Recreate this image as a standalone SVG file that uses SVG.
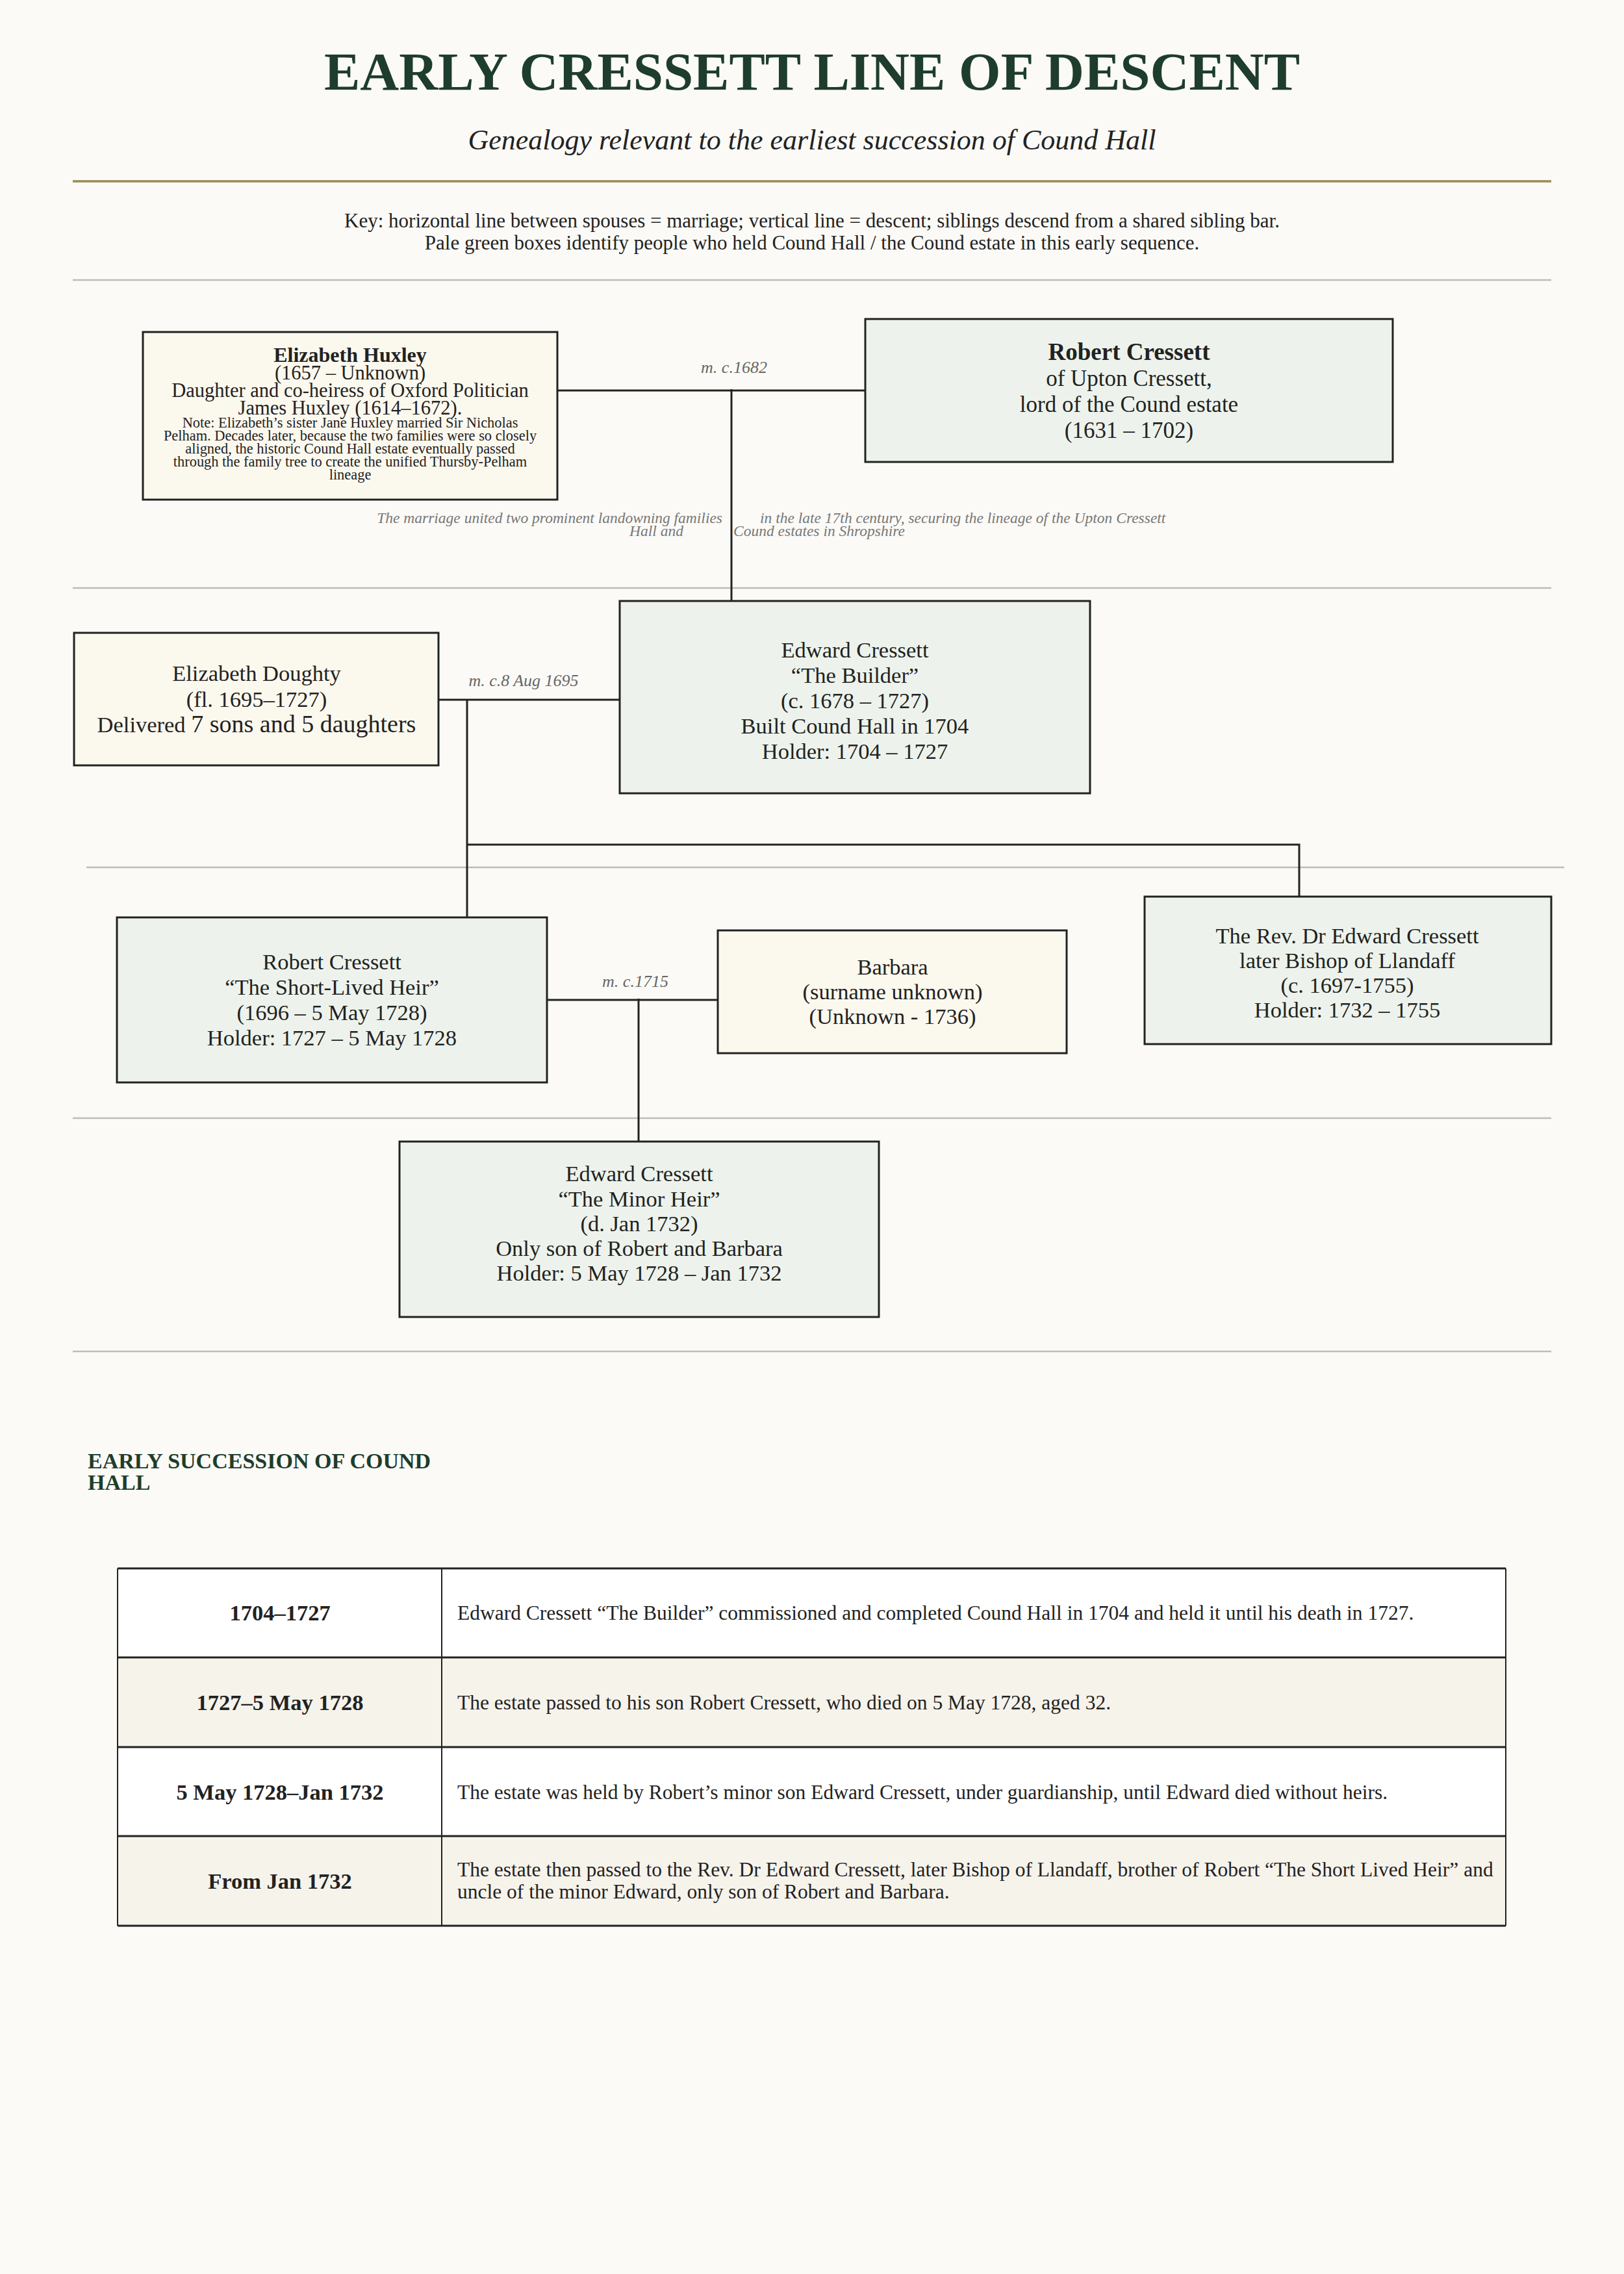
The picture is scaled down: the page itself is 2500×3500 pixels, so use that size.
<svg xmlns="http://www.w3.org/2000/svg" width="2500" height="3500" viewBox="0 0 2500 3500">
<style>
text{font-family:"Liberation Serif","Times New Roman",serif;fill:#222;}
.title{font-size:83px;font-weight:bold;fill:#1e3d2c;text-anchor:middle;}
.sub{font-size:44px;font-style:italic;fill:#222;text-anchor:middle;}
.key{font-size:31px;text-anchor:middle;fill:#222;}
.node{stroke:#222;stroke-width:3;}
.green{fill:#edf3ec;}
.cream{fill:#fbf8ee;}
.nt{font-size:34.5px;text-anchor:middle;}
.lbl{font-size:26px;font-style:italic;fill:#666;text-anchor:middle;}
.cap{font-size:23.5px;font-style:italic;fill:#777;}
.conn{stroke:#222;stroke-width:3;fill:none;}
.rule{stroke:#bdbdbd;stroke-width:2.5;}
.h2{font-size:34px;font-weight:bold;fill:#1e3d2c;}
.c1{font-size:34.5px;font-weight:bold;text-anchor:middle;}
.c2{font-size:31.5px;}
</style>
<rect x="0" y="0" width="2500" height="3500" fill="#fbfaf6"/>

<g id="header">
<text class="title" x="1250" y="138">EARLY CRESSETT LINE OF DESCENT</text>
<text class="sub" x="1250" y="230">Genealogy relevant to the earliest succession of Cound Hall</text>
<line x1="112" y1="279" x2="2388" y2="279" stroke="#9a8a55" stroke-width="3.5"/>
<text class="key" x="1250" y="350">Key: horizontal line between spouses = marriage; vertical line = descent; siblings descend from a shared sibling bar.</text>
<text class="key" x="1250" y="384">Pale green boxes identify people who held Cound Hall / the Cound estate in this early sequence.</text>
</g>

<g id="dividers">
<line class="rule" x1="112" y1="431" x2="2388" y2="431"/>
<line class="rule" x1="112" y1="905" x2="2388" y2="905"/>
<line class="rule" x1="133" y1="1335" x2="2408" y2="1335"/>
<line class="rule" x1="112" y1="1721" x2="2388" y2="1721"/>
<line class="rule" x1="112" y1="2080" x2="2388" y2="2080"/>
</g>

<g id="connectors">
<line class="conn" x1="858" y1="601" x2="1332" y2="601"/>
<line class="conn" x1="1126" y1="599" x2="1126" y2="925"/>
<line class="conn" x1="676" y1="1077" x2="954" y2="1077"/>
<line class="conn" x1="719" y1="1077" x2="719" y2="1412"/>
<polyline class="conn" points="719,1300 2000,1300 2000,1379"/>
<line class="conn" x1="842" y1="1539" x2="1105" y2="1539"/>
<line class="conn" x1="983" y1="1537" x2="983" y2="1757"/>
<text class="lbl" x="1130" y="574">m. c.1682</text>
<text class="lbl" x="806" y="1056">m. c.8 Aug 1695</text>
<text class="lbl" x="978" y="1519">m. c.1715</text>
<text class="cap" x="1112" y="805" text-anchor="end">The marriage united two prominent landowning families</text>
<text class="cap" x="1052" y="825" text-anchor="end">Hall and</text>
<text class="cap" x="1170" y="805">in the late 17th century, securing the lineage of the Upton Cressett</text>
<text class="cap" x="1129" y="825">Cound estates in Shropshire</text>
</g>

<g id="elizabeth-huxley">
<rect class="node cream" x="220" y="511" width="638" height="258"/>
<text x="539" y="557" text-anchor="middle" font-size="32" font-weight="bold">Elizabeth Huxley</text>
<text x="539" y="584" text-anchor="middle" font-size="30.5">(1657 – Unknown)</text>
<text x="539" y="611" text-anchor="middle" font-size="30.5">Daughter and co-heiress of Oxford Politician</text>
<text x="539" y="638" text-anchor="middle" font-size="30.5">James Huxley (1614–1672).</text>
<text x="539" y="658" text-anchor="middle" font-size="22.4">Note: Elizabeth’s sister Jane Huxley married  Sir Nicholas</text>
<text x="539" y="678" text-anchor="middle" font-size="22.4">Pelham. Decades later, because the two families were so closely</text>
<text x="539" y="698" text-anchor="middle" font-size="22.4">aligned, the historic Cound Hall estate eventually passed</text>
<text x="539" y="718" text-anchor="middle" font-size="22.4">through the family tree to create the unified Thursby-Pelham</text>
<text x="539" y="738" text-anchor="middle" font-size="22.4">lineage</text>
</g>

<g id="robert-cressett-sr">
<rect class="node green" x="1332" y="491" width="812" height="220"/>
<text x="1738" y="554" text-anchor="middle" font-size="37" font-weight="bold">Robert Cressett</text>
<text x="1738" y="594" text-anchor="middle" font-size="35">of Upton Cressett,</text>
<text x="1738" y="634" text-anchor="middle" font-size="35">lord of the Cound estate</text>
<text x="1738" y="674" text-anchor="middle" font-size="35">(1631 – 1702)</text>
</g>

<g id="elizabeth-doughty">
<rect class="node cream" x="114" y="974" width="561" height="204"/>
<text class="nt" x="395" y="1048">Elizabeth Doughty</text>
<text class="nt" x="395" y="1088">(fl. 1695–1727)</text>
<text class="nt" x="395" y="1127">Delivered <tspan font-size="38">7 sons and 5 daughters</tspan></text>
</g>

<g id="edward-builder">
<rect class="node green" x="954" y="925" width="724" height="296"/>
<text class="nt" x="1316" y="1012">Edward Cressett</text>
<text class="nt" x="1316" y="1051">“The Builder”</text>
<text class="nt" x="1316" y="1090">(c. 1678 – 1727)</text>
<text class="nt" x="1316" y="1129">Built Cound Hall in 1704</text>
<text class="nt" x="1316" y="1168">Holder: 1704 – 1727</text>
</g>

<g id="robert-short-lived">
<rect class="node green" x="180" y="1412" width="662" height="254"/>
<text class="nt" x="511" y="1492">Robert Cressett</text>
<text class="nt" x="511" y="1531">“The Short-Lived Heir”</text>
<text class="nt" x="511" y="1570">(1696 – 5 May 1728)</text>
<text class="nt" x="511" y="1609">Holder: 1727 – 5 May 1728</text>
</g>

<g id="barbara">
<rect class="node cream" x="1105" y="1432" width="537" height="189"/>
<text class="nt" x="1374" y="1500">Barbara</text>
<text class="nt" x="1374" y="1538">(surname unknown)</text>
<text class="nt" x="1374" y="1576">(Unknown - 1736)</text>
</g>

<g id="rev-edward">
<rect class="node green" x="1762" y="1380" width="626" height="227"/>
<text class="nt" x="2074" y="1452">The Rev. Dr Edward Cressett</text>
<text class="nt" x="2074" y="1490">later Bishop of Llandaff</text>
<text class="nt" x="2074" y="1528">(c. 1697-1755)</text>
<text class="nt" x="2074" y="1566">Holder: 1732 – 1755</text>
</g>

<g id="edward-minor">
<rect class="node green" x="615" y="1757" width="738" height="270"/>
<text class="nt" x="984" y="1818">Edward Cressett</text>
<text class="nt" x="984" y="1857">“The Minor Heir”</text>
<text class="nt" x="984" y="1895">(d. Jan 1732)</text>
<text class="nt" x="984" y="1933">Only son of Robert and Barbara</text>
<text class="nt" x="984" y="1971">Holder: 5 May 1728 – Jan 1732</text>
</g>

<g id="succession-table">
<text class="h2" x="135" y="2260">EARLY SUCCESSION OF COUND</text>
<text class="h2" x="135" y="2293">HALL</text>
<rect x="181" y="2414" width="2137" height="137" fill="#ffffff"/>
<rect x="181" y="2551" width="2137" height="138" fill="#f6f3eb"/>
<rect x="181" y="2689" width="2137" height="137" fill="#ffffff"/>
<rect x="181" y="2826" width="2137" height="138" fill="#f6f3eb"/>
<g stroke="#222" stroke-width="3">
<line x1="181" y1="2414" x2="2318" y2="2414"/>
<line x1="181" y1="2551" x2="2318" y2="2551"/>
<line x1="181" y1="2689" x2="2318" y2="2689"/>
<line x1="181" y1="2826" x2="2318" y2="2826"/>
<line x1="181" y1="2964" x2="2318" y2="2964"/>
</g>
<g stroke="#222" stroke-width="2">
<line x1="181" y1="2414" x2="181" y2="2964"/>
<line x1="680" y1="2414" x2="680" y2="2964"/>
<line x1="2318" y1="2414" x2="2318" y2="2964"/>
</g>
<text class="c1" x="431" y="2494">1704–1727</text>
<text class="c2" x="704" y="2493">Edward Cressett “The Builder” commissioned and completed Cound Hall in 1704 and held it until his death in 1727.</text>
<text class="c1" x="431" y="2632">1727–5 May 1728</text>
<text class="c2" x="704" y="2631">The estate passed to his son Robert Cressett, who died on 5 May 1728, aged 32.</text>
<text class="c1" x="431" y="2770">5 May 1728–Jan 1732</text>
<text class="c2" x="704" y="2769">The estate was held by Robert’s minor son Edward Cressett, under guardianship, until Edward died without heirs.</text>
<text class="c1" x="431" y="2907">From Jan 1732</text>
<text class="c2" x="704" y="2888">The estate then passed to the Rev. Dr Edward Cressett, later Bishop of Llandaff, brother of Robert “The Short Lived Heir” and</text>
<text class="c2" x="704" y="2922">uncle of the minor Edward, only son of Robert and Barbara.</text>
</g>
</svg>
